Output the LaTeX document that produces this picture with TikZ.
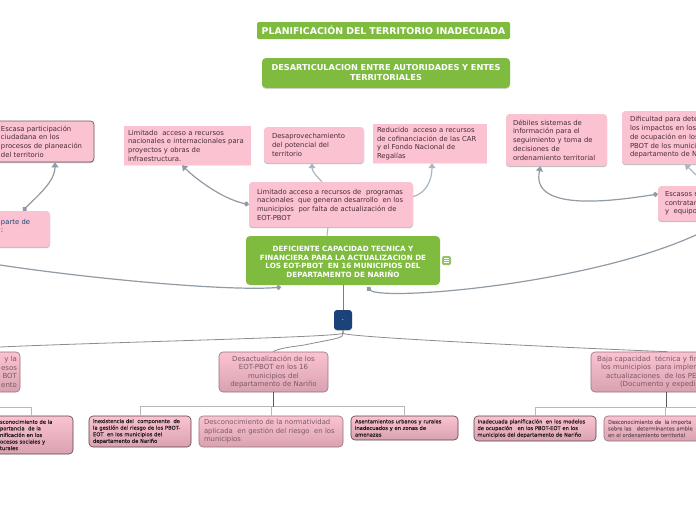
\documentclass[tikz,border=0pt]{standalone}
\usepackage{fontspec}
\setmainfont{DejaVu Sans}
\newfontfamily\fakebf{DejaVu Sans}[FakeBold=0.3]
\usetikzlibrary{arrows.meta,shadows}
\definecolor{pk}{HTML}{FBC3D1}
\definecolor{pkd}{HTML}{D9A2B1}
\definecolor{grn}{HTML}{7FBB3F}
\definecolor{cn}{HTML}{AAB6C1}
\definecolor{ink}{HTML}{4A2B38}
\definecolor{inkl}{HTML}{7A5A66}
\definecolor{nv}{HTML}{1B4379}
\newcommand{\dsp}{\ \ }
\tikzset{
  base/.style={inner ysep=0pt,font=\fontsize{6.85}{8.7}\selectfont,text=ink},
  pinkbox/.style={base,fill=pk,rounded corners=3.5pt,drop shadow={shadow xshift=0pt,shadow yshift=-1.2pt,opacity=.45,fill=black!55}},
  squarebox/.style={base,fill=pk,drop shadow={shadow xshift=0pt,shadow yshift=-.8pt,opacity=.2,fill=black!40}},
  darkbox/.style={pinkbox,draw=black!55!pk,line width=.7pt},
  gradbox/.style={base,top color=pk,bottom color=pkd,draw=black!30!pkd,line width=.6pt,rounded corners=4pt},
  gradink/.style={gradbox,draw=black!60!pkd,font=\fontsize{5.2}{6.6}\fakebf,text=black!85!pk},
  greenbox/.style={base,fill=grn,rounded corners=4pt,text=white,font=\fontsize{7.2}{8.6}\selectfont\bfseries},
  link/.style={cn,line width=1.2pt,-{Triangle[length=5pt,width=7pt]}},
  dotlink/.style={cn!85!black,line width=1.2pt,{Circle[length=5pt,width=5pt]}-{Triangle[length=5pt,width=7pt]}},
  dotonly/.style={cn!85!black,line width=1.2pt,{Circle[length=5pt,width=5pt]}-},
  plain/.style={cn,line width=1pt},
  stem/.style={black!65,line width=1pt},
  treeline/.style={black!28,line width=1pt},
  toplink/.style={black!45,line width=.8pt},
}
% name, style, x1, y1, x2, y2, inset, extra options, text
\newcommand{\boxnode}[9]{%
  \pgfmathsetmacro{\bw}{#5-#3}\pgfmathsetmacro{\bh}{#6-#4}%
  \pgfmathsetmacro{\cxx}{(#3+#5)/2}\pgfmathsetmacro{\cyy}{(#4+#6)/2}%
  \pgfmathsetmacro{\tw}{#5-#3-2*#7}%
  \node[#2,minimum width=\bw pt,minimum height=\bh pt,inner xsep=#7 pt,text width=\tw pt,#8] (#1) at (\cxx,\cyy) {#9};}
\begin{document}
\begin{tikzpicture}[x=1pt,y=-1pt]
\useasboundingbox (0,0) rectangle (696,520);
\clip (0,0) rectangle (696,520);
\fill[white] (0,0) rectangle (696,520);

\boxnode{title}{greenbox,rounded corners=1.5pt}{257}{22}{510}{39}{0}{align=center,font=\fontsize{9.35}{9.5}\selectfont\bfseries}{PLANIFICACIÓN DEL TERRITORIO INADECUADA}
\boxnode{desart}{greenbox,drop shadow={shadow xshift=0pt,shadow yshift=-1pt,opacity=.3,fill=black!50}}{262}{58}{510}{88}{4}{align=center,font=\fontsize{8.2}{10}\selectfont\bfseries}{DESARTICULACION ENTRE AUTORIDADES Y ENTES\\TERRITORIALES}

\boxnode{partic}{darkbox}{-6}{121}{94}{162}{7}{align=left}{Escasa participación\\ciudadana en los\\procesos de planeación\\del territorio}
\boxnode{parte}{pinkbox}{-6}{211}{50}{247}{7}{align=left,text=nv}{parte de\\:\par\vspace*{6pt}}
\boxnode{intern}{squarebox}{124}{126}{251}{165}{4}{align=left}{Limitado\dsp acceso a recursos\\nacionales e internacionales para\\proyectos y obras de\\infraestructura.}
\boxnode{desap}{pinkbox}{264}{127}{364}{163}{8}{align=left}{Desaprovechamiento\\del potencial del\\territorio}
\boxnode{reduc}{squarebox}{373}{124}{487}{163}{4}{align=left}{Reducido\dsp acceso a recursos\\de cofinanciación de las CAR\\y el Fondo Nacional de\\Regalías}
\boxnode{limit}{pinkbox}{249}{182}{413}{227}{8}{align=left}{Limitado acceso a recursos de\dsp programas\\nacionales\dsp que generan desarrollo\dsp en los\\municipios\dsp por falta de actualización de\\EOT-PBOT}
\boxnode{main}{greenbox}{246}{236}{440}{285}{3}{align=center}{DEFICIENTE CAPACIDAD TECNICA Y\\FINANCIERA PARA LA ACTUALIZACION DE\\LOS EOT-PBOT\dsp EN 16 MUNICIPIOS DEL\\DEPARTAMENTO DE NARIÑO\par\vspace*{-3pt}}
\boxnode{note}{base}{442}{256}{451}{265}{0}{fill=grn!85!white,rounded corners=1.5pt}{}
\boxnode{debil}{pinkbox}{506}{114}{607}{166}{7}{align=left}{Débiles sistemas de\\información para el\\seguimiento y toma de\\decisiones de\\ordenamiento territorial}
\boxnode{dific}{pinkbox}{622}{111}{720}{164}{8}{align=left}{Dificultad para dete\\los impactos en los\\de ocupación en los\\PBOT de los munici\\departamento de N}
\boxnode{escas}{pinkbox}{658}{186}{720}{221}{7}{align=left}{Escasos r\\contratar\\y\dsp equipo}
\boxnode{blue}{base}{334}{310}{352}{330}{0}{fill=nv,rounded corners=3pt,text=white,align=center,drop shadow={shadow xshift=0pt,shadow yshift=-.8pt,opacity=.3,fill=black!50}}{.}

\boxnode{cleft}{gradbox}{-20}{352}{20}{392}{3}{align=right,text=inkl,font=\fontsize{7}{8.6}\selectfont}{y la\\esos\\BOT\\ento}
\boxnode{cmid}{gradbox}{219}{352}{328}{392}{4}{align=center,text=inkl,font=\fontsize{7}{8.6}\selectfont}{Desactualización de los\\EOT-PBOT en los 16\\municipios del\\departamento de Nariño}
\boxnode{cright}{gradbox}{591}{352}{730}{392}{6}{align=left,text=inkl,font=\fontsize{7}{8.6}\selectfont}{Baja capacidad\dsp técnica y fin\\\hspace*{4pt}los municipios\dsp para implem\\\hspace*{9pt}actualizaciones\dsp de los PE\\\hspace*{23pt}(Documento y expedie}

\boxnode{g1}{gradink}{-6}{416}{73}{454}{6}{align=left}{sconocimiento de la\\portancia\dsp de la\\nificación en los\\ocesos sociales y\\turales}
\boxnode{g2}{gradink}{89}{416}{191}{447}{4}{align=left}{Inexistencia del\dsp componente\dsp de\\la gestión del riesgo de los PBOT-\\EOT\dsp en los municipios del\\departamento de Nariño}
\boxnode{g3}{gradbox}{199}{416}{343}{447}{5}{align=left,text=inkl,font=\fontsize{6.85}{8.6}\selectfont}{Desconocimiento de la normatividad\\aplicada\dsp en gestión del riesgo\dsp en los\\municipios}
\boxnode{g4}{gradink}{351}{416}{458}{440}{4}{align=left}{Asentamientos urbanos y rurales\\inadecuados y en zonas de\\amenazas}
\boxnode{g5}{gradink}{474}{416}{596}{441}{3.5}{align=left}{Inadecuada planificación\dsp en los modelos\\de ocupación\dsp\ en los PBOT-EOT en los\\municipios del departamento de Nariño}
\boxnode{g6}{gradbox}{604}{416}{730}{441}{4}{align=left,text=inkl,font=\fontsize{5.2}{6.6}\fakebf}{Desconocimiento de\dsp la importa\\sobre las\dsp\ determinantes ambie\\en el ordenamiento territorial}

\coordinate (offL) at (0,265);
\coordinate (offR) at (696,235);
\coordinate (offE) at (696,175);
\coordinate (offTL) at (0,347);
\coordinate (offTR) at (696,407);
\coordinate (offTM) at (0,407);

\foreach \dy in {-2,0,2}
  \draw[white,line width=.7pt] ([xshift=-2.5pt,yshift=\dy pt]note.center) -- ([xshift=2.5pt,yshift=\dy pt]note.center);

\draw[dotlink] ([xshift=1pt]parte.north) .. controls +(12,-13) and +(0,20) .. ([xshift=11pt]partic.south);
\draw[dotlink] (limit.west) .. controls +(-28,-6) and +(12,12) .. ([xshift=-5.5pt]intern.south);
\draw[link] ([xshift=-9pt]limit.north) .. controls +(-5,-5) and +(0,8) .. ([xshift=-2pt]desap.south);
\draw[link] ([yshift=8pt]limit.east) .. controls +(12,-3) and +(0,18) .. ([xshift=2pt]reduc.south);
\draw[plain] ([xshift=-3pt]limit.south) -- ([xshift=-16pt]main.north);
\draw[dotonly] ([xshift=-62pt,yshift=-2pt]main.south) .. controls +(-50,4) and +(100,15) .. (offL);
\draw[dotonly] ([xshift=24pt,yshift=-2pt]main.south) .. controls +(15,14) and +(-110,50) .. (offR);
\draw[dotlink] ([yshift=9.5pt]escas.west) .. controls +(-50,8) and +(-10,45) .. ([xshift=-16pt]debil.south);
\draw[link] (offE) -- ([xshift=14pt]dific.south);
\draw[plain,cn!70!black] (main.south -| blue.north) -- (blue.north);

\draw[toplink] (blue.south) -- ++(0,3) .. controls +(-1,4) and +(110,-5) .. (offTL);
\draw[toplink] (blue.south) -- ++(0,3) .. controls +(-1,5) and +(40,-8) .. ++(-40,12) .. controls +(-15,2) and +(5,-3) .. ([xshift=-0.5pt]cmid.north);
\draw[toplink] (blue.south) -- ++(0,3) .. controls +(1,4) and +(-100,-4) .. ([xshift=7pt]cright.north);

\draw[treeline] (g2.north) -- ++(0,-9) -| (g4.north);
\draw[treeline] (g3.north) -- ++(0,-9);
\draw[stem] (cmid.south) -- ++(0,15);
\draw[treeline] (offTM) -| ([xshift=-42pt]g1.north east);
\draw[treeline] (offTR) -| (g5.north);
\draw[treeline] ([xshift=-2pt]g6.north) -- ++(0,-9);
\draw[stem] ([xshift=5.5pt]cright.south) -- ++(0,15);
\end{tikzpicture}
\end{document}
